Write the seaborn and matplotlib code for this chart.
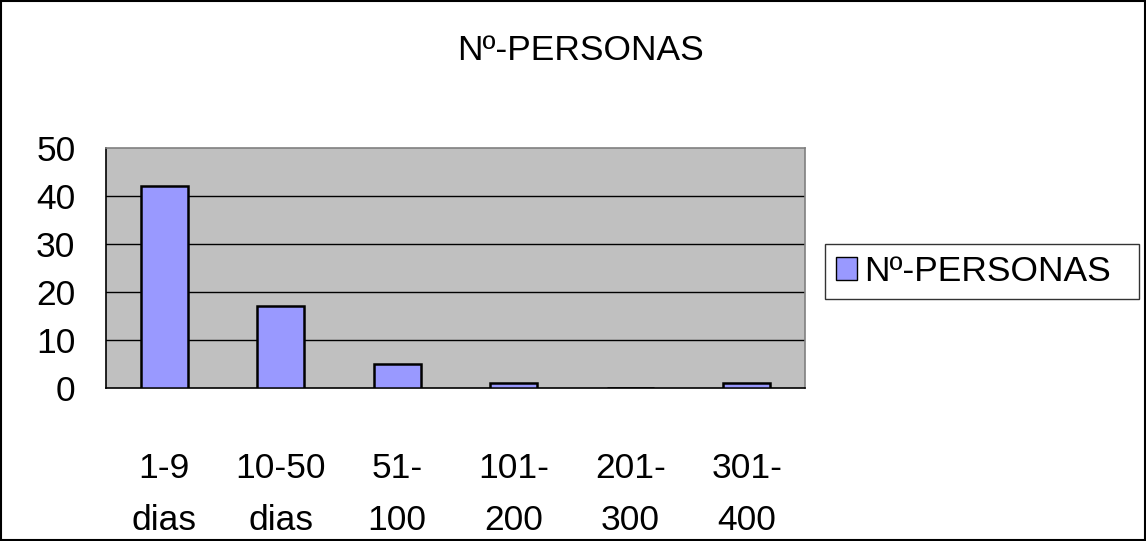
import matplotlib
matplotlib.use("Agg")
import matplotlib.pyplot as plt
import seaborn as sns
import pandas as pd
import numpy as np
from matplotlib.patches import Rectangle, Patch

categories = ["1-9\ndias", "10-50\ndias", "51-\n100", "101-\n200", "201-\n300", "301-\n400"]
values = [42, 17, 5, 1, 0, 1]
series_name = "Nº-PERSONAS"
title = "Nº-PERSONAS"
yticks = [0, 10, 20, 30, 40, 50]

sns.set_style("white")
plt.rcParams['font.family'] = ['Liberation Sans', 'DejaVu Sans']
plt.rcParams['text.color'] = 'black'
plt.rcParams['xtick.color'] = 'black'
plt.rcParams['ytick.color'] = 'black'
plt.rcParams['xtick.labelcolor'] = 'black'
plt.rcParams['ytick.labelcolor'] = 'black'

FS = 25.5

df = pd.DataFrame({"cat": categories, "val": values})

fig = plt.figure(figsize=(11.46, 5.41), dpi=100)
ax = fig.add_axes([106/1146, 1-388/541, (805-106)/1146, (388-148)/541])
ax.set_facecolor("#C0C0C0")

sns.barplot(data=df, x="cat", y="val", ax=ax, color="#9999FF", width=0.4,
            edgecolor="black", linewidth=1.8, saturation=1, zorder=3)

ax.set_xlim(-0.5, len(categories) - 0.5)
ax.set_ylim(0, 50)
ax.set_yticks(yticks)
ax.set_yticklabels([str(v) for v in yticks], fontsize=FS)
for y in yticks[1:-1]:
    ax.axhline(y, color="black", lw=1, zorder=1)

ax.set_xticks(np.arange(len(categories)))
ax.set_xticklabels(categories, fontsize=FS, linespacing=1.72)
ax.tick_params(axis="x", which="major", length=0, pad=46)
ax.set_xticks(np.arange(len(categories) + 1) - 0.5, minor=True)
ax.tick_params(axis="x", which="minor", length=9, width=1, color="black", direction="out")
ax.tick_params(axis="y", length=7, width=1, color="black", direction="out", pad=15)
ax.set_xlabel("")
ax.set_ylabel("")

for side in ["top", "right"]:
    ax.spines[side].set_color("#808080")
    ax.spines[side].set_linewidth(1.2)
for side in ["left", "bottom"]:
    ax.spines[side].set_color("black")
    ax.spines[side].set_linewidth(1.2)

fig.text(580/1146, 1-50/541, title, ha="center", va="center", fontsize=FS)

leg = fig.legend(handles=[Patch(facecolor="#9999FF", edgecolor="black", label=series_name)],
                 loc="center left", bbox_to_anchor=(825/1146, 1-295/541, 314/1146, 47/541),
                 mode="expand",
                 fontsize=FS, frameon=True, fancybox=False, edgecolor="black",
                 handlelength=0.6, handleheight=0.6, handletextpad=0.2,
                 borderpad=0.3, borderaxespad=0)
leg.get_frame().set_linewidth(1)

fig.patches.append(Rectangle((0.001, 0.001), 0.998, 0.997, transform=fig.transFigure,
                             fill=False, edgecolor="black", lw=1.5))

fig.savefig("out.png", dpi=100)
